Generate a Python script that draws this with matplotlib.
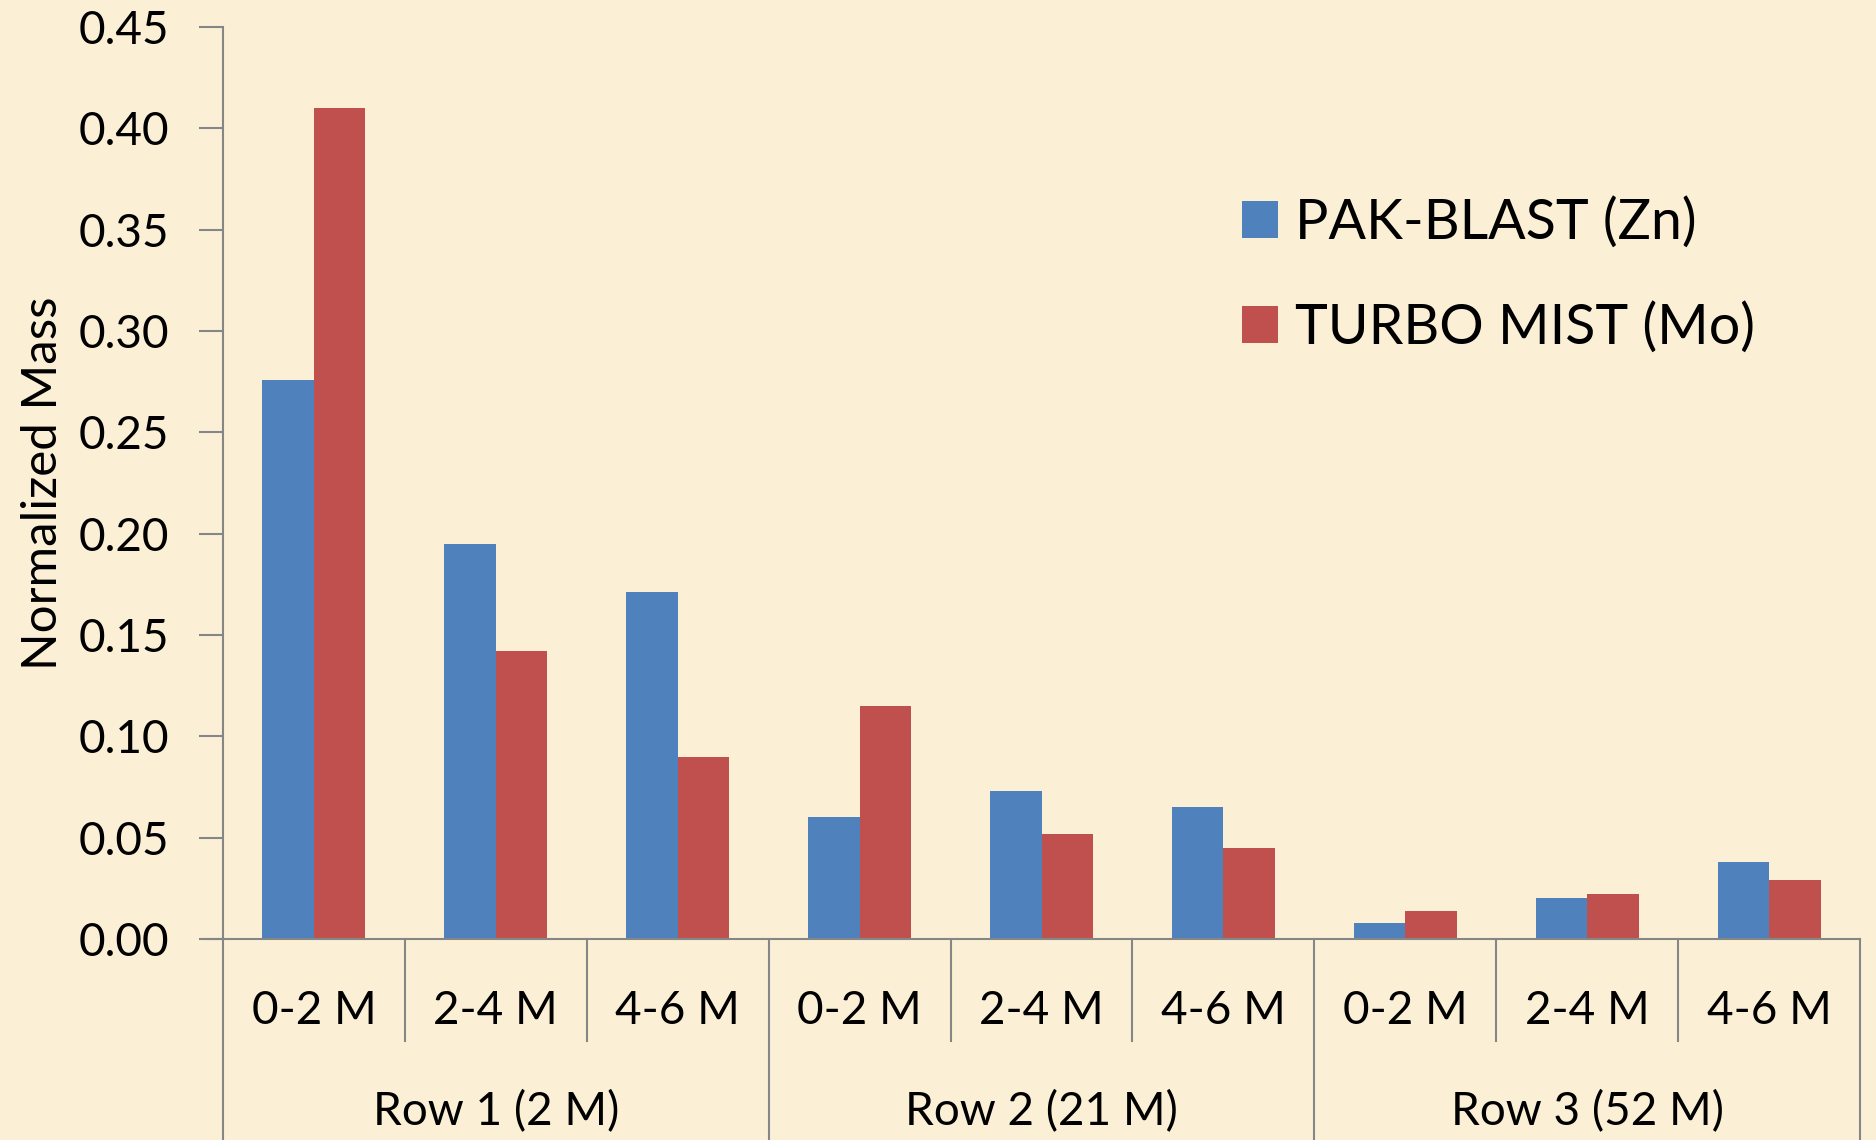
import matplotlib.pyplot as plt
import numpy as np

plt.rcParams['font.family'] = ['Lato', 'DejaVu Sans']

# data
groups = ['Row 1 (2 M)', 'Row 2 (21 M)', 'Row 3 (52 M)']
ranges = ['0-2 M', '2-4 M', '4-6 M']
pak_blast = [0.276, 0.195, 0.171, 0.060, 0.073, 0.065, 0.008, 0.020, 0.038]
turbo_mist = [0.410, 0.142, 0.090, 0.115, 0.052, 0.045, 0.014, 0.022, 0.029]
series_names = ['PAK-BLAST (Zn)', 'TURBO MIST (Mo)']

bg = '#FBF0D6'
axis_gray = '#868686'
blue = '#4F81BD'
red = '#C0504D'

fig = plt.figure(figsize=(18.76, 11.4), dpi=100, facecolor=bg)
ax = fig.add_axes([223 / 1876, 1 - 939 / 1140, (1860 - 223) / 1876, 912 / 1140])
ax.set_facecolor('none')

n = len(pak_blast)
x = np.arange(n) + 0.5
w = 0.283
ax.bar(x - w / 2, pak_blast, w, color=blue, label=series_names[0])
ax.bar(x + w / 2, turbo_mist, w, color=red, label=series_names[1])

ax.set_xlim(0, n)
ax.set_ylim(0, 0.45)
ax.set_yticks(np.arange(0, 0.451, 0.05))
ax.set_yticklabels(['%.2f' % v for v in np.arange(0, 0.451, 0.05)])
ax.tick_params(axis='y', length=17, width=1.5, color=axis_gray, labelsize=33, pad=22)
ax.set_xticks([])

for s in ['top', 'right']:
    ax.spines[s].set_visible(False)
ax.spines['left'].set_color(axis_gray)
ax.spines['left'].set_linewidth(1.5)
ax.spines['bottom'].set_visible(False)

trans = ax.get_xaxis_transform()
# x axis line, extended left as the 0.00 tick
ax.plot([-17 / 1637 * n, n], [0, 0], color=axis_gray, lw=1.5, transform=trans, clip_on=False)

short_end = -(1041 - 939) / 912
long_end = -(1140 - 939) / 912
for i in range(n + 1):
    end = long_end if i % 3 == 0 else short_end
    ax.plot([i, i], [0, end], color=axis_gray, lw=1.5, transform=trans, clip_on=False)

cat_y = -(1011 - 939) / 912
for i in range(n):
    ax.text(i + 0.5, cat_y, ranges[i % 3], ha='center', va='center', fontsize=33,
            transform=trans, clip_on=False)

grp_y = -(1112 - 939) / 912
for g, name in enumerate(groups):
    ax.text(g * 3 + 1.5, grp_y, name, ha='center', va='center', fontsize=33,
            transform=trans, clip_on=False)

ax.set_ylabel('Normalized Mass', fontsize=35.5)
ax.yaxis.set_label_coords(-158 / 1637, 0.5)

fig.legend(loc='upper left', bbox_to_anchor=(1192 / 1876, 1 - 147 / 1140), frameon=False,
           fontsize=40, handlelength=0.65, handleheight=0.65, handletextpad=0.3,
           labelspacing=0.95)

fig.savefig('out.png', dpi=100, facecolor=bg)
